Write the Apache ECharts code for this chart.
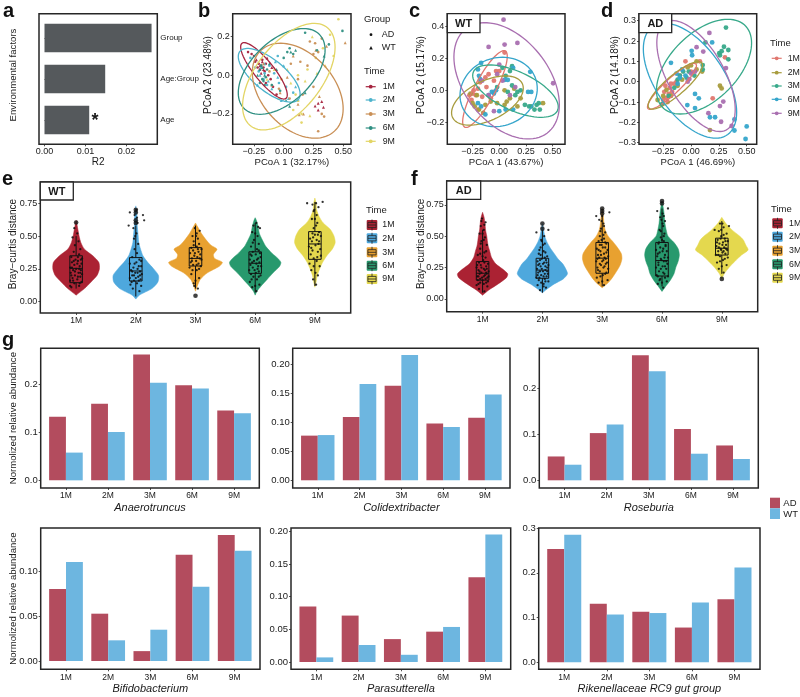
<!DOCTYPE html>
<html><head><meta charset="utf-8">
<style>html,body{margin:0;padding:0;background:#fff}#c{width:800px;height:697px}</style>
<script src="https://cdn.jsdelivr.net/npm/echarts@6/dist/echarts.min.js"></script>
</head><body><div id="c"></div>
<script>
const times=['1M','2M','3M','6M','9M'];
const legendTimes=['1M','2M','3M','6M','9M'];
const groups=['AD','WT'];
const factors=['Age','Age:Group','Group'];
const r2Values=[0.0109,0.0148,0.0261];

// PCoA ellipses: centre x, centre y, half-extent x, half-extent y, correlation
const ellipseB=[[-.166,.023,.196,.146,-.85],[-.122,.0,.26,.139,-.7],[.118,-.08,.382,.246,-.38],[-.017,.02,.365,.222,.5],[.043,-.007,.389,.276,.55]];
const ellipseC=[[-.134,.008,.209,.239,.85],[-.111,-.0635,.336,.153,.5],[.152,-.005,.401,.163,-.6],[-.006,-.01,.362,.216,.1],[.069,.059,.494,.362,-.41]];
const ellipseD=[[-.171,-.023,.22,.113,.9],[-.141,-.018,.244,.117,.85],[.117,.074,.427,.233,.5],[-.009,.005,.419,.283,-.55],[.045,.028,.352,.273,-.6]];

// Panel b points
const b1M_AD=[[-.3,.12],[-.27,.11],[-.25,.1],[-.24,.07],[-.21,.06],[-.19,.05],[-.17,.04],[-.2,.03],[-.16,.02],[-.13,.0],[-.11,-.02],[-.09,-.06],[-.06,-.1],[-.15,-.04],[-.22,.04],[-.18,.08],[-.15,.06]];
const b1M_WT=[[.29,-.145],[.32,-.136],[.264,-.159],[.334,-.166],[.29,-.18],[-.23,.08],[-.18,.07],[-.14,.09],[-.19,.01],[-.1,.04],[-.2,.05],[-.17,.03]];
const b2M_AD=[[-.28,.09],[-.24,.04],[-.21,.02],[-.17,-.02],[-.14,-.05],[-.12,.05],[-.08,.01],[-.04,-.04],[.02,-.06],[.08,-.09],[.12,-.13],[-.05,.1],[-.19,.04],[-.16,.01]];
const b2M_WT=[[-.2,.0],[-.16,.06],[-.1,-.07],[-.02,-.13],[.04,-.12],[.1,-.06],[.0,.05],[-.22,-.05],[-.07,.07],[-.13,-.03],[-.05,-.01]];
const b3M_AD=[[.22,.175],[.264,.166],[.32,.19],[.29,.12],[.25,.11],[.14,.07],[.06,.06],[.2,.05],[.12,-.02],[.05,-.12],[.16,-.1],[.25,-.06],[.29,-.29],[.32,-.2],[.34,-.214],[-.04,-.07],[-.12,.02]];
const b3M_WT=[[.517,.169],[.166,-.2],[.13,-.205],[.08,.1],[.03,-.01],[-.03,-.09],[.12,-.15],[.27,.13],[.36,.15],[.3,-.11],[-.17,.06],[-.1,-.05]];
const b6M_AD=[[.18,.22],[.494,.23],[.05,.14],[.03,.12],[.08,.11],[.0,.09],[.38,.16],[.28,.13],[-.2,-.04],[-.16,-.05],[-.18,-.02],[-.14,.03],[-.1,-.05],[-.03,-.08],[-.19,.05],[-.17,-.03],[-.15,-.01]];
const b6M_WT=[[.06,.12],[.1,.13],[.34,.1],[-.2,.03],[-.22,.0],[-.12,.06],[-.06,.03],[.02,-.13],[.18,-.09],[.05,-.16],[-.18,.04],[-.16,.0]];
const b9M_AD=[[.46,.29],[.39,.21],[.42,.1],[.33,.14],[.2,.03],[.12,.0],[.15,-.2],[.08,-.18],[.15,-.245],[.27,.09],[.1,-.1],[-.02,-.02]];
const b9M_WT=[[.24,.2],[.35,.05],[.28,.01],[.18,-.03],[-.08,.03],[.03,.03],[.06,-.04],[.12,-.13],[-.04,-.12],[.22,-.21],[-.14,-.02]];

// Panel c points
const c1M=[[.05,.235],[-.13,.08],[-.1,.1],[-.05,.06],[-.03,.12],[-.25,-.02],[-.24,.0],[-.22,-.03],[-.2,.01],[-.26,-.06],[-.12,.02],[-.16,-.04],[-.2,-.12],[-.08,-.05],[-.05,-.01],[.0,.12],[-.18,.05],[-.28,-.03]];
const c2M=[[.41,-.08],[.2,-.05],[.17,-.1],[.1,-.05],[.07,-.07],[-.25,-.08],[-.27,-.02],[-.23,-.1],[-.19,-.12],[-.15,-.14],[-.08,-.07],[-.02,-.08],[.05,-.09],[.05,.0],[-.13,-.09],[-.21,-.03],[.14,.01]];
const c3M=[[.12,.15],[.1,.12],[.03,.14],[.35,-.09],[.37,-.08],[.3,-.1],[.33,-.12],[.38,-.12],[.24,-.09],[.28,-.1],[.15,-.03],[.17,-.01],[.08,-.01],[.2,.0],[.12,.03],[-.02,.02],[.06,.09]];
const c6M=[[.29,.115],[.13,.14],[-.18,.07],[-.2,.13],[-.17,.17],[.05,.065],[.08,.065],[.13,-.12],[.06,-.12],[.27,-.01],[.3,-.01],[-.2,-.08],[-.17,-.1],[-.1,-.03],[-.07,-.01],[-.03,.0],[-.05,-.02],[-.13,-.15],[.0,-.13],[-.19,.09]];
const c9M=[[.04,.44],[-.1,.27],[.05,.285],[.17,.295],[.505,.044],[.0,.16],[-.02,.1],[.03,.06],[-.1,-.03],[.1,-.03],[-.16,.06],[.15,.02],[-.05,-.13]];

// Panel d points
const d1M=[[.195,-.082],[.305,.12],[-.2,-.06],[-.22,-.08],[-.24,-.05],[-.19,-.03],[-.17,-.05],[-.21,-.1],[-.25,-.09],[-.15,-.01],[-.13,.0],[-.1,.03],[-.18,-.01],[-.23,-.02],[.0,.05],[.08,.1],[-.05,.1]];
const d2M=[[.17,-.238],[.26,-.02],[.275,-.033],[-.3,-.09],[.0,.08],[.05,.06],[.1,.05],[.05,.1],[-.25,-.07],[-.22,-.04],[-.18,-.07],[-.12,-.02],[-.08,.01],[-.03,.07]];
const d3M=[[.314,.266],[.254,.14],[.275,.15],[.296,.172],[.335,.156],[.26,.13],[.335,.11],[.13,.193],[.105,.082],[.105,.06],[-.1,.03],[-.07,.05],[-.04,.02],[.03,.03],[-.2,-.07],[-.15,-.03],[-.02,.05],[-.26,-.11],[-.12,.01]];
const d6M=[[.19,.193],[.006,.152],[.01,.13],[-.18,.093],[.5,-.22],[.49,-.282],[.39,-.185],[.39,-.24],[.036,-.06],[.07,-.082],[-.033,-.115],[.036,-.13],[.17,-.175],[.216,-.175],[-.1,.02],[-.13,.04],[-.08,.06],[-.05,.03],[-.12,-.01]];
const d9M=[[.165,.24],[.05,.17],[.11,.148],[.314,.067],[.29,-.098],[.156,-.155],[.27,-.197],[.365,-.218],[-.015,.013],[.036,.05],[.0,.04],[-.03,.0],[.26,-.12]];

// Violin outlines: [distance, half width in category units]
const vE1=[[.05,0],[.1,.14],[.15,.25],[.2,.35],[.25,.39],[.3,.38],[.35,.28],[.4,.14],[.45,.08],[.5,.05],[.55,.03],[.62,0]];
const vE2=[[.02,0],[.05,.06],[.1,.27],[.15,.37],[.2,.38],[.25,.3],[.3,.2],[.35,.12],[.4,.08],[.45,.05],[.5,.04],[.55,.03],[.6,.02],[.65,.02],[.7,.01],[.73,0]];
const vE3=[[.08,0],[.12,.03],[.17,.08],[.22,.2],[.27,.4],[.3,.45],[.33,.32],[.36,.3],[.4,.36],[.43,.26],[.47,.18],[.52,.1],[.56,.05],[.6,0]];
const vE4=[[.05,0],[.08,.03],[.12,.1],[.17,.2],[.22,.3],[.27,.41],[.3,.43],[.33,.38],[.37,.28],[.42,.18],[.47,.12],[.52,.07],[.57,.05],[.62,.02],[.64,0]];
const vE5=[[.11,0],[.15,.02],[.2,.04],[.25,.08],[.3,.13],[.35,.2],[.4,.29],[.45,.34],[.5,.32],[.55,.26],[.6,.14],[.65,.07],[.7,.03],[.75,.02],[.79,0]];
const vF1=[[.03,0],[.07,.1],[.12,.26],[.17,.4],[.2,.42],[.24,.33],[.28,.22],[.33,.15],[.38,.12],[.43,.09],[.5,.07],[.55,.05],[.6,.04],[.65,.025],[.69,0]];
const vF2=[[.05,0],[.08,.08],[.12,.2],[.16,.35],[.2,.42],[.24,.39],[.28,.34],[.32,.26],[.36,.2],[.4,.14],[.45,.08],[.5,.04],[.55,.02],[.6,0]];
const vF3=[[.09,0],[.13,.1],[.17,.17],[.22,.24],[.27,.3],[.32,.33],[.36,.32],[.4,.27],[.45,.19],[.5,.1],[.55,.05],[.6,.03],[.65,.02],[.72,0]];
const vF4=[[.06,0],[.1,.06],[.15,.14],[.2,.2],[.25,.23],[.3,.27],[.35,.29],[.4,.27],[.45,.2],[.5,.1],[.55,.07],[.6,.05],[.65,.04],[.7,.03],[.78,0]];
const vF5=[[.16,0],[.2,.04],[.25,.12],[.3,.22],[.35,.33],[.39,.44],[.43,.4],[.47,.36],[.5,.3],[.55,.17],[.6,.07],[.65,0]];

// Boxes: position, low whisker, q1, median, q3, high whisker
const boxE=[[1,.1,.145,.254,.35,.5],[2,.04,.158,.234,.336,.58],[3,.1,.272,.33,.412,.58],[4,.07,.216,.293,.38,.6],[5,.12,.323,.44,.534,.76]];
const boxF=[[1,.05,.15,.205,.298,.55],[2,.05,.165,.23,.324,.55],[3,.1,.205,.325,.45,.67],[4,.1,.183,.306,.45,.72],[5,.2,.35,.404,.484,.62]];
const outE=[[1,.603],[2,.7],[2,.68],[2,.62],[2,.6],[3,.045]];
const outF=[[2,.6],[2,.56],[3,.72],[3,.7],[3,.68],[4,.78],[4,.76],[5,.16]];

// Jittered samples: [offset, distance]
const jE1=[[-.08,.11],[.05,.12],[-.03,.14],[.09,.15],[-.1,.16],[.02,.17],[-.06,.18],[.07,.19],[-.02,.2],[.1,.21],[-.09,.22],[.04,.22],[-.05,.24],[.08,.24],[0,.25],[-.1,.26],[.06,.27],[-.03,.28],[.09,.29],[-.07,.3],[.03,.31],[-.01,.32],[.1,.33],[-.08,.34],[.05,.36],[-.04,.38],[.07,.4],[-.02,.43],[.04,.46],[-.06,.49],[.02,.52],[-.03,.56],[.06,.14],[-.05,.16],[.03,.19],[-.08,.2],[.07,.22],[-.02,.23],[.05,.25],[-.07,.26],[.02,.29],[-.04,.31],[.08,.32],[-.1,.12],[.03,.34]];
const jE2=[[.06,.08],[-.05,.1],[.09,.12],[-.09,.13],[.02,.14],[-.03,.16],[.08,.17],[-.1,.18],[.04,.19],[-.06,.2],[.1,.21],[-.01,.22],[.07,.23],[-.08,.24],[.03,.25],[-.04,.26],[.09,.27],[-.1,.29],[.01,.3],[.06,.32],[-.06,.34],[.02,.37],[-.02,.4],[.04,.44],[-.03,.48],[.01,.52],[-.04,.56],[.03,.6],[.12,.66],[-.12,.58],[.14,.62],[-.1,.68],[-.07,.15],[.05,.16],[.0,.18],[-.03,.2],[.07,.2],[.03,.22],[-.06,.23],[.05,.27],[-.02,.29],[.09,.31],[.02,.64],[-.02,.66],[.01,.7],[-.01,.5]];
const jE3=[[.04,.1],[-.03,.14],[.06,.18],[-.07,.21],[.02,.24],[-.1,.26],[.09,.27],[-.04,.28],[.05,.29],[-.08,.3],[.01,.31],[.1,.32],[-.06,.33],[.03,.34],[-.02,.35],[.08,.36],[-.09,.37],[.05,.38],[-.04,.39],[.1,.4],[-.07,.41],[.02,.42],[.06,.44],[-.03,.46],[.04,.48],[-.05,.5],[.02,.52],[.07,.54],[-.01,.56],[.0,.16],[-.05,.24],[.06,.25],[.02,.28],[-.06,.31],[.07,.33],[-.01,.37],[.04,.4],[-.03,.43],[.01,.5],[-.02,.12]];
const jE4=[[.02,.08],[-.05,.11],[.07,.13],[-.09,.15],[.03,.17],[-.03,.19],[.09,.2],[-.07,.21],[.01,.22],[.06,.23],[-.1,.24],[.04,.25],[-.04,.26],[.1,.27],[-.08,.28],[.02,.29],[.07,.3],[-.02,.31],[-.09,.32],[.05,.33],[.09,.34],[-.06,.35],[.01,.36],[.08,.37],[-.04,.38],[.03,.4],[-.07,.42],[.06,.44],[-.02,.47],[.04,.5],[-.05,.53],[.08,.56],[-.03,.58],[.02,.6],[.0,.12],[-.06,.17],[.06,.19],[-.01,.24],[.05,.27],[-.05,.3],[.03,.32],[-.08,.36],[.06,.39],[-.04,.45],[.0,.52],[.05,.57]];
const jE5=[[.02,.13],[-.03,.17],[.05,.2],[-.06,.24],[.08,.27],[-.09,.29],[.03,.31],[-.02,.33],[.1,.35],[-.07,.36],[.05,.38],[-.04,.39],[.09,.4],[-.1,.42],[.01,.43],[.06,.44],[-.05,.46],[.03,.47],[-.08,.48],[.1,.5],[.0,.51],[-.04,.52],[.07,.53],[-.02,.56],[.04,.6],[-.05,.63],[.03,.66],[-.02,.69],[.06,.72],[-.04,.74],[.13,.76],[-.13,.75],[.01,.22],[-.02,.27],[.04,.34],[-.06,.41],[.07,.46],[-.03,.49],[.05,.51],[.02,.58],[.0,.63],[-.01,.7],[.02,.75]];
const jF1=[[.03,.06],[-.06,.08],[.08,.1],[-.1,.11],[.02,.12],[-.04,.13],[.09,.14],[-.08,.15],[.05,.16],[-.01,.17],[.1,.18],[-.09,.18],[.04,.19],[-.05,.2],[.07,.2],[-.02,.21],[.1,.22],[-.07,.23],[.02,.24],[-.1,.25],[.06,.26],[-.03,.27],[.09,.28],[-.06,.29],[.01,.31],[.05,.33],[-.08,.35],[.03,.37],[-.04,.4],[.07,.43],[-.02,.46],[.04,.49],[-.05,.52],[.02,.55],[-.03,.58],[.05,.61],[-.01,.64],[-.07,.12],[.06,.13],[.0,.15],[-.04,.16],[.08,.17],[-.07,.18],[.02,.18],[.06,.21],[-.05,.22],[.04,.23],[-.02,.25],[.07,.24],[-.09,.27],[.03,.29],[.0,.34],[-.04,.36],[.06,.38],[-.03,.44],[.02,.47],[.0,.52],[.03,.59],[-.02,.62]];
const jF2=[[-.04,.07],[.06,.09],[-.08,.11],[.02,.12],[.1,.14],[-.06,.15],[.04,.16],[-.1,.17],[.07,.18],[-.02,.19],[.09,.2],[-.07,.21],[.01,.22],[.05,.23],[-.09,.24],[.08,.25],[-.03,.26],[.1,.27],[-.05,.28],[.03,.29],[-.08,.3],[.06,.31],[-.01,.32],[.08,.34],[-.06,.36],[.02,.38],[-.03,.41],[.04,.44],[-.02,.47],[.03,.5],[-.1,.53],[.1,.55],[.02,.1],[-.02,.13],[.05,.14],[-.05,.17],[.02,.18],[-.08,.19],[.04,.2],[-.04,.22],[.08,.22],[-.01,.24],[.05,.26],[-.07,.27],[.01,.28],[.07,.29],[-.04,.31],[.04,.33],[-.03,.35],[.05,.37],[-.05,.39],[.01,.43],[-.01,.46]];
const jF3=[[.03,.11],[-.06,.13],[.09,.15],[-.09,.17],[.01,.19],[.07,.21],[-.04,.22],[.1,.24],[-.08,.25],[.04,.26],[-.02,.27],[.08,.29],[-.1,.3],[.02,.31],[.06,.32],[-.05,.33],[.1,.34],[-.07,.35],[.03,.36],[-.03,.38],[.09,.39],[-.09,.4],[.05,.41],[-.01,.43],[.07,.44],[-.06,.46],[.03,.48],[-.04,.5],[.05,.53],[-.02,.56],[.02,.6],[-.05,.63],[.12,.69],[-.1,.66],[.0,.14],[-.03,.18],[.05,.2],[-.07,.23],[.02,.25],[-.04,.28],[.06,.28],[.0,.3],[-.08,.32],[.04,.33],[-.02,.35],[.07,.37],[-.06,.39],[.01,.41],[-.04,.43],[.05,.45],[-.01,.47],[.02,.51],[-.03,.54],[.03,.58],[-.01,.62],[.0,.66]];
const jF4=[[.02,.09],[-.07,.12],[.08,.14],[-.03,.16],[.1,.18],[-.09,.19],[.04,.2],[-.05,.22],[.07,.24],[-.1,.25],[.01,.26],[.09,.28],[-.06,.29],[.03,.3],[-.02,.32],[.1,.33],[-.08,.34],[.05,.35],[-.04,.37],[.08,.38],[-.1,.39],[.02,.4],[.06,.42],[-.06,.44],[.03,.46],[-.02,.49],[.04,.52],[-.04,.55],[.02,.58],[.05,.62],[-.03,.65],[.01,.68],[.1,.72],[-.08,.7],[.0,.13],[-.04,.15],[.05,.17],[-.07,.18],[.02,.21],[-.02,.24],[.05,.26],[-.06,.27],[.07,.3],[-.01,.31],[.04,.33],[-.07,.36],[.01,.38],[-.03,.41],[.06,.43],[-.05,.45],[.0,.47],[.03,.5],[-.02,.54],[.01,.6],[-.01,.63],[.03,.66]];
const jF5=[[.03,.21],[-.05,.24],[.08,.27],[-.08,.29],[.02,.31],[.1,.33],[-.03,.34],[-.1,.35],[.06,.36],[.01,.37],[-.06,.38],[.09,.39],[-.02,.4],[.04,.41],[-.09,.42],[.07,.43],[-.04,.44],[.02,.45],[.1,.46],[-.07,.47],[.05,.48],[-.01,.5],[.08,.52],[-.05,.54],[.03,.57],[-.03,.6],[.12,.58],[-.12,.55],[.0,.26],[-.03,.3],[.05,.32],[-.06,.35],[.03,.38],[-.01,.39],[.07,.4],[-.05,.41],[.01,.43],[-.08,.45],[.06,.46],[-.02,.48],[.03,.51],[-.01,.55],[.01,.6]];

// Genus bars
const genusTitles=['Anaerotruncus','Colidextribacter','Roseburia','Bifidobacterium','Parasutterella','Rikenellaceae RC9 gut group'];
const anaerotruncusAD=[.133,.16,.263,.199,.146], anaerotruncusWT=[.058,.101,.204,.192,.14];
const colidextribacterAD=[.077,.109,.163,.098,.108], colidextribacterWT=[.078,.166,.216,.092,.148];
const roseburiaAD=[.052,.103,.273,.112,.076], roseburiaWT=[.034,.122,.238,.058,.0465];
const bifidobacteriumAD=[.08,.0526,.011,.118,.14], bifidobacteriumWT=[.11,.023,.0348,.0826,.1226];
const parasutterellaAD=[.0847,.071,.035,.0464,.1296], parasutterellaWT=[.007,.026,.011,.0536,.195];
const rikenellaceaeAD=[.253,.1306,.1127,.0776,.141], rikenellaceaeWT=[.285,.1067,.11,.1336,.212];

const FF='"Liberation Sans"', INK='#1a1a1a', FRAME='#262626';
const colB=['#a6243f','#4cb3cc','#c98f55','#2f8f82','#e3d565'];
const colC=['#e0776f','#a89c3e','#38a98a','#35a5cb','#a96fb0'];
const colV=['#ab2233','#4ea8dd','#e8a130','#27996d','#e4d84e'];
const barAD='#b34c5e', barWT='#6db6e0';

const grids=[],xAxes=[],yAxes=[],series=[],graphics=[];
const box=(l,t,r,b,show)=>({left:l,top:t,width:r-l,height:b-t,show:!!show,borderColor:FRAME,borderWidth:1.5,backgroundColor:'transparent',containLabel:false});
const fix=(d)=>v=>v.toFixed(d).replace('-','\u2212');
function valAxis(gi,min,max,ticks,fmt,extra,lab){
  return Object.assign({type:'value',gridIndex:gi,min,max,splitLine:{show:false},nameMoveOverlap:false,
    axisLine:{show:false,onZero:false},
    axisTick:{show:true,length:2,lineStyle:{color:FRAME,width:.8},customValues:ticks},
    axisLabel:{customValues:ticks,formatter:fmt,fontSize:lab||9,color:INK,fontFamily:FF,margin:3,hideOverlap:false},
    nameLocation:'middle',nameTextStyle:{fontFamily:FF,fontSize:10,color:INK}},extra||{});
}
function txt(x,y,t,o){o=o||{};graphics.push({type:'text',x,y,z:120,silent:true,style:{text:t,fontFamily:FF,fontSize:o.size||9,fontWeight:o.weight||'normal',fill:o.fill||INK,
  align:o.align||'left',verticalAlign:'middle',textAlign:o.align||'left',textVerticalAlign:'middle'}});}
function frame(l,t,r,b){graphics.push({type:'rect',z:50,silent:true,shape:{x:l,y:t,width:r-l,height:b-t},style:{fill:'none',stroke:FRAME,lineWidth:1.5}});}
function tag(l,t,r,b,s){graphics.push({type:'rect',z:110,silent:true,shape:{x:l,y:t,width:r-l,height:b-t},style:{fill:'#fff',stroke:FRAME,lineWidth:1.3}});
  txt((l+r)/2,(t+b)/2+.5,s,{size:11,weight:'bold',align:'center'});}

function ellipseSeries(gi,params,colors){
  series.push({type:'custom',xAxisIndex:gi,yAxisIndex:gi,clip:false,silent:true,z:5,data:params,
    renderItem(p,api){
      const cx=api.value(0),cy=api.value(1),hx=api.value(2),hy=api.value(3),phi=Math.acos(api.value(4));
      const pts=[];for(let i=0;i<90;i++){const t=i/90*2*Math.PI;pts.push(api.coord([cx+hx*Math.cos(t),cy+hy*Math.cos(t-phi)]));}
      return {type:'polygon',shape:{points:pts},style:{fill:'none',stroke:colors[p.dataIndex],lineWidth:1.3}};
    }});
}
function pts(gi,data,color,size,symbol){series.push({type:'scatter',xAxisIndex:gi,yAxisIndex:gi,data,symbol:symbol||'circle',symbolSize:size,itemStyle:{color,opacity:.95},silent:true,z:3});}

// Panel a
grids.push(box(39,17.5,157.3,140.5));
xAxes.push(valAxis(0,-.00134,.0275,[0,.01,.02],fix(2),{position:'bottom',offset:3.8,name:'R2',nameGap:13}));
yAxes.push({type:'category',gridIndex:0,position:'right',data:factors,axisLine:{show:false},axisTick:{show:true,length:2,alignWithLabel:true,lineStyle:{color:FRAME,width:.8}},
  axisLabel:{fontSize:8,color:INK,fontFamily:FF,margin:3}});
series.push({type:'bar',xAxisIndex:0,yAxisIndex:0,data:r2Values,barWidth:'70%',itemStyle:{color:'#55595c'},silent:true});
frame(39,13.7,157.3,144.3);

// Panels b,c,d
const pcoa=[
 {l:232.7,r:351,x:[-.429,.566],y:[-.3575,.319],xt:[-.25,0,.25,.5],yt:[-.2,0,.2],xn:'PCoA 1 (32.17%)',yn:'PCoA 2 (23.48%)',yg:19.7},
 {l:447.3,r:565,x:[-.487,.616],y:[-.336,.477],xt:[-.25,0,.25,.5],yt:[-.2,0,.2,.4],xn:'PCoA 1 (43.67%)',yn:'PCoA 2 (15.17%)',yg:20.6},
 {l:639,r:756.7,x:[-.467,.59],y:[-.308,.3345],xt:[-.25,0,.25,.5],yt:[-.3,-.2,-.1,0,.1,.2,.3],xn:'PCoA 1 (46.69%)',yn:'PCoA 2 (14.18%)',yg:19}];
pcoa.forEach((p,i)=>{const gi=i+1;
  grids.push(box(p.l,13.7,p.r,144.3,true));
  xAxes.push(valAxis(gi,p.x[0],p.x[1],p.xt,fix(2),{name:p.xn,nameGap:13,nameTextStyle:{fontFamily:FF,fontSize:9.6,color:INK}}));
  yAxes.push(valAxis(gi,p.y[0],p.y[1],p.yt,fix(1),{name:p.yn,nameGap:p.yg,nameRotate:90,nameTextStyle:{fontFamily:FF,fontSize:10,color:INK,padding:[0,0,0,8]}}));
});
ellipseSeries(1,ellipseB,colB);ellipseSeries(2,ellipseC,colC);ellipseSeries(3,ellipseD,colC);
[[b1M_AD,b1M_WT],[b2M_AD,b2M_WT],[b3M_AD,b3M_WT],[b6M_AD,b6M_WT],[b9M_AD,b9M_WT]].forEach((g,i)=>{pts(1,g[0],colB[i],2.6);pts(1,g[1],colB[i],3,'triangle');});
[c1M,c2M,c3M,c6M,c9M].forEach((d,i)=>pts(2,d,colC[i],4.8));
[d1M,d2M,d3M,d6M,d9M].forEach((d,i)=>pts(3,d,colC[i],4.8));
tag(447.3,13.7,480,32.7,'WT');tag(639,13.7,671.7,32.7,'AD');

// Panels e,f
function violinPanel(gi,l,t,r,b,ymin,ymax,profiles,boxes,outliers,jitters,gap,pad){
  grids.push(box(l,t,r,b,true));
  xAxes.push(valAxis(gi,.4,5.6,[1,2,3,4,5],v=>times[v-1],{},8.5));
  yAxes.push(valAxis(gi,ymin,ymax,[0,.25,.5,.75],fix(2),{name:'Bray\u2212curtis distance',nameGap:gap,nameRotate:90,nameTextStyle:{fontFamily:FF,fontSize:10,color:INK,padding:[0,0,0,pad]}}));
  profiles.forEach((prof,i)=>{
    series.push({type:'custom',xAxisIndex:gi,yAxisIndex:gi,silent:true,z:2,data:[[i+1]],clip:false,
      renderItem(par,api){const c=api.value(0);
        const rgt=prof.map(q=>api.coord([c+q[1],q[0]])),lft=prof.slice().reverse().map(q=>api.coord([c-q[1],q[0]]));
        return {type:'polygon',shape:{points:rgt.concat(lft),smooth:.25},style:{fill:colV[i],stroke:colV[i],lineWidth:.5}};}});
  });
  jitters.forEach((j,i)=>{
    series.push({type:'scatter',xAxisIndex:gi,yAxisIndex:gi,silent:true,z:3,symbolSize:2.3,itemStyle:{color:'#0d0d0d',opacity:.85},data:j.map(q=>[i+1+q[0],q[1]])});
  });
  series.push({type:'custom',xAxisIndex:gi,yAxisIndex:gi,silent:true,z:4,data:boxes,
    renderItem(par,api){
      const c=api.value(0),w=.105,s={stroke:'#111',fill:'none',lineWidth:1};
      const P=(x,y)=>api.coord([x,y]);
      const seg=(a,b)=>({type:'line',shape:{x1:a[0],y1:a[1],x2:b[0],y2:b[1]},style:s});
      const a=P(c-w,api.value(4)),d=P(c+w,api.value(2));
      return {type:'group',children:[
        seg(P(c,api.value(1)),P(c,api.value(2))),seg(P(c,api.value(4)),P(c,api.value(5))),
        {type:'rect',shape:{x:a[0],y:a[1],width:d[0]-a[0],height:d[1]-a[1]},style:s},
        seg(P(c-w,api.value(3)),P(c+w,api.value(3)))]};
    }});
  series.push({type:'scatter',xAxisIndex:gi,yAxisIndex:gi,silent:true,z:4,symbolSize:4.6,itemStyle:{color:'#111'},data:outliers});
}
violinPanel(4,40.3,182,350.7,313,-.086,.912,[vE1,vE2,vE3,vE4,vE5],boxE,outE,[jE1,jE2,jE3,jE4,jE5],22,7);
violinPanel(5,446.7,181,757.7,311.7,-.101,.939,[vF1,vF2,vF3,vF4,vF5],boxF,outF,[jF1,jF2,jF3,jF4,jF5],20,5);
tag(40.3,182,73.3,200,'WT');tag(446.7,181,480.7,199.3,'AD');

// Panel g
const gPanels=[
 {l:40.7,r:259.3,t:348.3,b:488,y:[-.016,.276],yt:[0,.1,.2],d:1,ad:anaerotruncusAD,wt:anaerotruncusWT,yn:1},
 {l:292.7,r:510,t:348.3,b:488,y:[-.0133,.2276],yt:[0,.05,.1,.15,.2],d:2,ad:colidextribacterAD,wt:colidextribacterWT},
 {l:539.3,r:758.3,t:348.3,b:488,y:[-.0168,.288],yt:[0,.1,.2],d:1,ad:roseburiaAD,wt:roseburiaWT},
 {l:40.7,r:260,t:528,b:669.3,y:[-.0092,.1478],yt:[0,.05,.1],d:2,ad:bifidobacteriumAD,wt:bifidobacteriumWT,yn:1},
 {l:291,r:510.7,t:528,b:669.3,y:[-.0112,.205],yt:[0,.05,.1,.15,.2],d:2,ad:parasutterellaAD,wt:parasutterellaWT},
 {l:538.7,r:760,t:528,b:669.3,y:[-.0157,.3],yt:[0,.1,.2,.3],d:1,ad:rikenellaceaeAD,wt:rikenellaceaeWT}];
gPanels.forEach((p,i)=>{const gi=6+i,ins=(p.r-p.l)*.1/5.2;
  grids.push(box(p.l+ins,p.t,p.r-ins,p.b));
  xAxes.push({type:'category',gridIndex:gi,data:times,axisLine:{show:false,onZero:false},axisTick:{show:true,length:2,alignWithLabel:true,lineStyle:{color:FRAME,width:.8}},
    axisLabel:{fontSize:8.5,color:INK,fontFamily:FF,margin:3.5},name:genusTitles[i],nameLocation:'middle',nameGap:14,nameMoveOverlap:false,
    nameTextStyle:{fontFamily:FF,fontSize:11,fontStyle:'italic',color:INK}});
  yAxes.push(valAxis(gi,p.y[0],p.y[1],p.yt,fix(p.d),Object.assign({offset:ins},p.yn?{name:'Normolized relative abundance',nameRotate:90,nameGap:22.5,nameTextStyle:{fontFamily:FF,fontSize:9.6,color:INK}}:{}),9.5));
  series.push({type:'bar',xAxisIndex:gi,yAxisIndex:gi,data:p.ad,name:groups[0],barWidth:'40%',barGap:0,itemStyle:{color:barAD},silent:true});
  series.push({type:'bar',xAxisIndex:gi,yAxisIndex:gi,data:p.wt,name:groups[1],barWidth:'40%',barGap:0,itemStyle:{color:barWT},silent:true});
  frame(p.l,p.t,p.r,p.b);
});

// Panel letters
[['a',3,11],['b',198,11],['c',409,11],['d',601,11],['e',2,179],['f',411,179],['g',2,340]].forEach(a=>txt(a[1],a[2],a[0],{size:20,weight:'bold',fill:'#111'}));
txt(95,121,'*',{size:18,weight:'bold',align:'center'});
graphics.push({type:'text',z:120,silent:true,x:13.3,y:75,rotation:Math.PI/2,style:{text:'Environmental factors',fontFamily:FF,fontSize:9.6,fill:INK,align:'center',verticalAlign:'middle',textAlign:'center',textVerticalAlign:'middle'}});

// Legends
txt(364,19.3,'Group',{size:9.5});
graphics.push({type:'circle',z:120,silent:true,shape:{cx:371,cy:34.7,r:1.4},style:{fill:'#111'}});
txt(381.7,34.7,groups[0],{size:9});
graphics.push({type:'polygon',z:120,silent:true,shape:{points:[[371,46],[372.8,49.4],[369.2,49.4]]},style:{fill:'#111'}});
txt(381.7,48,groups[1],{size:9});
function lineLegend(tx,ty,x1,x2,tLeft,ys,colors){
  txt(tx,ty,'Time',{size:9.5});
  ys.forEach((y,i)=>{
    graphics.push({type:'line',z:120,silent:true,shape:{x1,y1:y,x2,y2:y},style:{stroke:colors[i],lineWidth:1.2}});
    graphics.push({type:'circle',z:120,silent:true,shape:{cx:(x1+x2)/2,cy:y,r:1.9},style:{fill:colors[i]}});
    txt(tLeft,y,legendTimes[i],{size:8.8});
  });
}
lineLegend(364,71.7,365.7,375.7,382.7,[86.7,100,114,128,141.3],colB);
lineLegend(770,43.3,771.7,781.7,787.7,[58.3,72.7,86,99.3,113.3],colC);
function boxLegend(tx,ty,x1,x2,tLeft,ys){
  txt(tx,ty,'Time',{size:9.5});
  ys.forEach((y,i)=>{const cx=(x1+x2)/2;
    graphics.push({type:'rect',z:120,silent:true,shape:{x:x1,y:y-5,width:x2-x1,height:10,r:1},style:{fill:colV[i]}});
    graphics.push({type:'rect',z:121,silent:true,shape:{x:x1+1.2,y:y-2.6,width:x2-x1-2.4,height:5.2},style:{fill:'none',stroke:'#222',lineWidth:.8}});
    [[x1+1.2,y,x2-1.2,y],[cx,y-5.5,cx,y-2.6],[cx,y+2.6,cx,y+5.5]].forEach(s=>graphics.push({type:'line',z:121,silent:true,shape:{x1:s[0],y1:s[1],x2:s[2],y2:s[3]},style:{stroke:'#222',lineWidth:.8}}));
    txt(tLeft,y,legendTimes[i],{size:8.8});
  });
}
boxLegend(366,210.7,366.7,377.3,382.3,[225,238.3,252.3,265.7,279]);
boxLegend(771,209,772.3,782.7,789,[223.3,236.7,250.7,264.3,277.7]);
graphics.push({type:'rect',z:120,silent:true,shape:{x:770,y:497.7,width:10,height:10.6},style:{fill:barAD}});
graphics.push({type:'rect',z:120,silent:true,shape:{x:770,y:508.3,width:10,height:10.7},style:{fill:barWT}});
txt(783.3,503,groups[0],{size:9.5});txt(783.3,514,groups[1],{size:9.5});

const chart=echarts.init(document.getElementById('c'),null,{renderer:'canvas'});
chart.setOption({animation:false,backgroundColor:'#fff',grid:grids,xAxis:xAxes,yAxis:yAxes,series,graphic:{elements:graphics}});
</script></body></html>
